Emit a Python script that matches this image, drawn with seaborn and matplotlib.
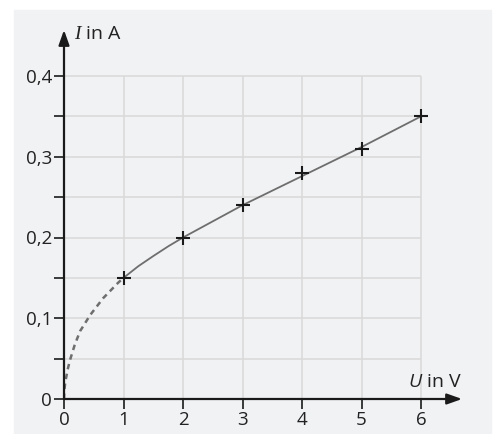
import matplotlib
matplotlib.use("Agg")
import matplotlib.pyplot as plt
import seaborn as sns
from matplotlib.patches import Rectangle

# Measured points
u_points = [1, 2, 3, 4, 5, 6]
i_points = [0.15, 0.20, 0.24, 0.28, 0.31, 0.35]

# Fitted curve
u_dashed = [0, 0.005, 0.02, 0.06, 0.1, 0.18, 0.27, 0.44, 0.66, 0.91, 1.0]
i_dashed = [0, 0.01, 0.02, 0.036, 0.048, 0.067, 0.084, 0.104, 0.125, 0.144, 0.15]
u_solid = [1.0, 1.25, 1.5, 1.75, 2.0, 2.5, 3.0, 3.5, 4.0, 4.5, 5.0, 5.5, 6.0]
i_solid = [0.15, 0.1645, 0.177, 0.189, 0.20, 0.22, 0.24, 0.258, 0.276, 0.294, 0.312, 0.331, 0.35]

y_major = [0, 0.1, 0.2, 0.3, 0.4]
y_labels = ["0", "0,1", "0,2", "0,3", "0,4"]
y_minor = [0.05, 0.15, 0.25, 0.35]
x_ticks = [0, 1, 2, 3, 4, 5, 6]

sns.set_style("white")
plt.rcParams["font.family"] = ["Open Sans", "DejaVu Sans"]
plt.rcParams["mathtext.fontset"] = "custom"
plt.rcParams["mathtext.it"] = "Liberation Serif:italic"
plt.rcParams["mathtext.sf"] = "Open Sans:italic"

W, H = 494, 434
fig = plt.figure(figsize=(W / 100, H / 100), dpi=100)
fig.patch.set_facecolor("white")
fig.patches.append(Rectangle((14 / W, 1 - 433 / H), 477 / W, 423 / H,
                             transform=fig.transFigure, color="#f1f2f4", zorder=-10))

# pixel geometry: x=0 at 64px, 59.5 px per unit; y=0 at 399px, 807.5 px per unit
x_max, y_max = 6.75, 0.46
ax = fig.add_axes([64 / W, (H - 399) / H, x_max * 59.5 / W, y_max * 807.5 / H])
ax.set_facecolor("none")
ax.set_xlim(0, x_max)
ax.set_ylim(0, y_max)
for s in ax.spines.values():
    s.set_visible(False)

# grid
grid_kw = dict(color="#d9d9d9", lw=1.1, zorder=1)
ax.vlines(x_ticks[1:], 0, 0.4, **grid_kw)
ax.hlines(y_minor + y_major[1:], 0, 6, **grid_kw)

# curve
sns.lineplot(x=u_dashed, y=i_dashed, ax=ax, color="#6e6e6e", lw=1.8,
             linestyle=(0, (2.2, 1.8)), sort=False, estimator=None, zorder=3)
sns.lineplot(x=u_solid, y=i_solid, ax=ax, color="#6e6e6e", lw=1.3,
             sort=False, estimator=None, zorder=3)
sns.scatterplot(x=u_points, y=i_points, ax=ax, marker="+", s=110,
                color="#1a1a1a", linewidth=1.5, zorder=4)

# axes with arrows
arrow = dict(arrowstyle="-|>,head_length=0.9,head_width=0.32", lw=1.6,
             color="#1a1a1a", shrinkA=0, shrinkB=0)
ax.annotate("", xy=(6.69, 0), xytext=(0, 0), arrowprops=arrow, zorder=5)
ax.annotate("", xy=(0, 0.457), xytext=(0, 0), arrowprops=arrow, zorder=5)

ax.set_xticks(x_ticks)
ax.set_xticklabels([str(t) for t in x_ticks])
ax.set_yticks(y_major)
ax.set_yticklabels(y_labels)
ax.set_yticks(y_minor, minor=True)
ax.tick_params(axis="both", which="both", direction="out", length=7, width=1.2,
               color="#1a1a1a", labelsize=13.5, labelcolor="#222222", pad=1.5,
               bottom=True, left=True)

ax.text(0.17, 0.446, r"$\mathit{I}$ in A", fontsize=14, color="#222222",
        ha="left", va="baseline")
ax.text(5.78, 0.015, r"$\mathsf{U}$ in V", fontsize=14, color="#222222",
        ha="left", va="baseline")

fig.savefig("out.png", dpi=100)
